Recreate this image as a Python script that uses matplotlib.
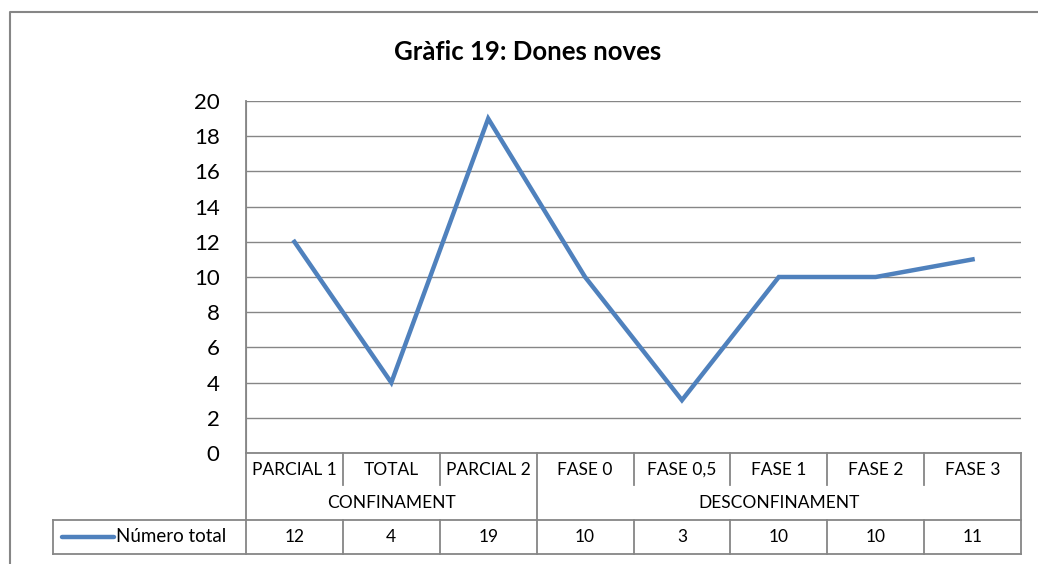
import matplotlib.pyplot as plt

# ----------------------------------------
# DATA
# ----------------------------------------
categories = ["PARCIAL 1", "TOTAL", "PARCIAL 2", "FASE 0", "FASE 0,5", "FASE 1", "FASE 2", "FASE 3"]
groups = ["CONFINAMENT", "DESCONFINAMENT"]
group_sizes = [3, 5]
values = [12, 4, 19, 10, 3, 10, 10, 11]
series_name = "Número total"
title = "Gràfic 19: Dones noves"

# ----------------------------------------
# STYLE
# ----------------------------------------
plt.rcParams["font.family"] = ["Lato", "DejaVu Sans"]
W, H = 1038, 564
LINE_BLUE = "#4F81BD"
GRID = "#868686"
FS = 12.5

fig = plt.figure(figsize=(W / 100, H / 100), dpi=100)

# plot area in pixels
left, right, top, bottom = 246, 1021, 101, 453
row = 33.5   # height of one table row


def fx(px):
    return px / W


def fy(py):
    return 1 - py / H


ax = fig.add_axes([fx(left), fy(bottom), fx(right - left), (bottom - top) / H])
x = list(range(len(categories)))
ax.plot(x, values, color=LINE_BLUE, lw=3.2, solid_joinstyle="miter", zorder=3)
ax.set_xlim(-0.5, len(categories) - 0.5)
ax.set_ylim(0, 20)
ax.set_yticks(range(0, 21, 2))
ax.tick_params(axis="y", length=0, labelsize=16, pad=19)
ax.set_xticks([])
ax.grid(axis="y", color=GRID, lw=1)
for s in ["top", "right", "bottom"]:
    ax.spines[s].set_visible(False)
ax.spines["left"].set_color(GRID)
ax.set_axisbelow(True)

fig.text(fx(528), fy(52), title, ha="center", va="center", fontsize=18.5, fontweight="bold")

# ----------------------------------------
# CATEGORY / GROUP / DATA TABLE
# ----------------------------------------
col_w = (right - left) / len(categories)
y0 = bottom
y1 = bottom + row          # end of category row
y2 = bottom + 2 * row      # end of group row (top of data row)
y3 = bottom + 3 * row      # bottom of data row
key_left = 53


def hline(xa, xb, py):
    fig.add_artist(plt.Line2D([fx(xa), fx(xb)], [fy(py), fy(py)], color=GRID, lw=1.3))


def vline(px, ya, yb):
    fig.add_artist(plt.Line2D([fx(px), fx(px)], [fy(ya), fy(yb)], color=GRID, lw=1.3))


hline(left, right, y0)
hline(left, right, y2)
hline(key_left, right, y3)
hline(key_left, left, y2)
vline(left, top, y3)
vline(right, y0, y3)
vline(key_left, y2, y3)

# separators between categories
bounds = [0]
for g in group_sizes:
    bounds.append(bounds[-1] + g)
for i in range(1, len(categories)):
    px = left + i * col_w
    if i in bounds:
        vline(px, y0, y3)
    else:
        vline(px, y0, y1 - 2)
        vline(px, y2, y3)

for i, c in enumerate(categories):
    cx = left + (i + 0.5) * col_w
    fig.text(fx(cx), fy(y0 + row / 2), c, ha="center", va="center", fontsize=FS)
    fig.text(fx(cx), fy(y2 + row / 2), str(values[i]), ha="center", va="center", fontsize=FS)

for gi, g in enumerate(groups):
    cx = left + (bounds[gi] + bounds[gi + 1]) / 2 * col_w
    fig.text(fx(cx), fy(y1 + row / 2), g, ha="center", va="center", fontsize=FS)

# legend key inside the data table
ky = y2 + row / 2
fig.add_artist(plt.Line2D([fx(62), fx(114)], [fy(ky), fy(ky)], color=LINE_BLUE, lw=3.2,
                          solid_capstyle="round"))
fig.text(fx(116), fy(ky), series_name, ha="left", va="center", fontsize=13.5)

# outer chart border
fig.add_artist(plt.Line2D([fx(10), fx(10), fx(W + 5)], [fy(H + 5), fy(12), fy(12)],
                          color=GRID, lw=1.5))

fig.savefig("out.png", dpi=100)
